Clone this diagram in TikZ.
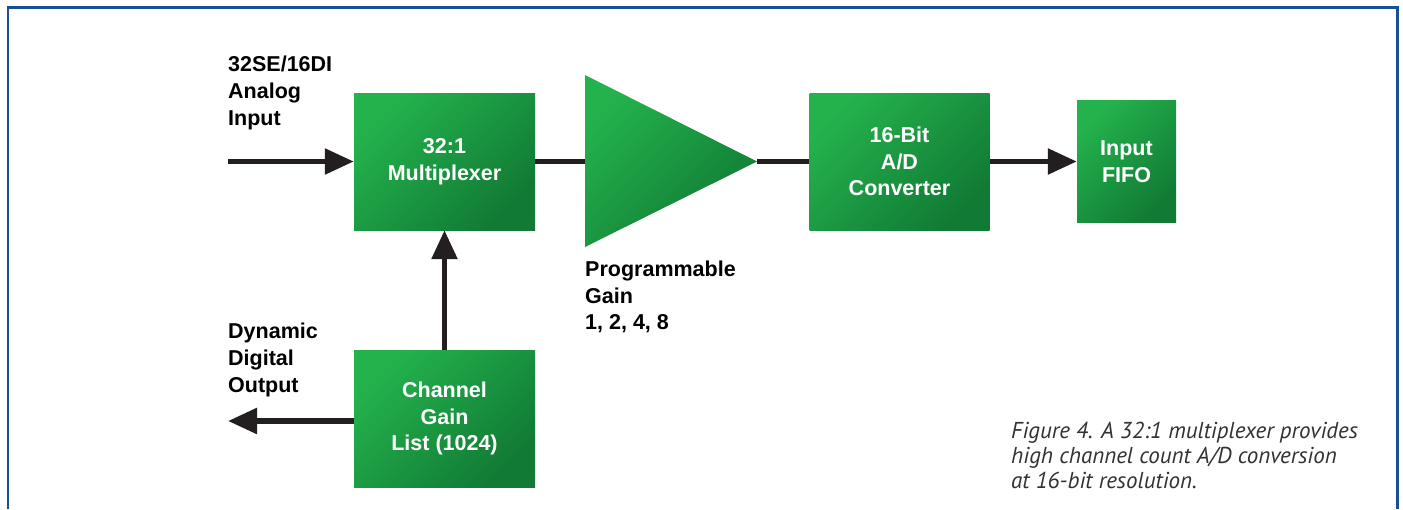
\documentclass[tikz,border=0pt]{standalone}
\usepackage{fontspec}
\setmainfont{Liberation Sans}
\newfontfamily\capfont{PT Sans}
\usetikzlibrary{arrows.meta}
\definecolor{gLight}{RGB}{36,178,77}
\definecolor{gDark}{RGB}{17,122,52}
\definecolor{frameblue}{RGB}{22,80,150}
\definecolor{wireblack}{RGB}{35,31,32}
\definecolor{capgrey}{RGB}{50,50,50}
\tikzset{
  gshade/.style={top color=gLight, bottom color=gDark, shading angle=45},
  gbox/.style={shade, gshade,
    inner sep=0pt, text=white, align=center,
    font=\fontsize{21.5}{26.5}\selectfont\bfseries},
  lbl/.style={inner sep=0pt, align=left, text=black,
    font=\fontsize{21.5}{26.8}\selectfont\bfseries},
  wire/.style={draw=wireblack, line width=5.5pt},
  arr/.style={wire, -{Triangle[length=29pt,width=25pt]}},
}
\begin{document}
\begin{tikzpicture}[x=1pt,y=-1pt]
\useasboundingbox (0,0) rectangle (1403,509);
\fill[white] (0,0) rectangle (1403,509);
% frame
\draw[frameblue, line width=2.2pt] (8,509) -- (8,7.5) -- (1397.5,7.5) -- (1397.5,509);
% boxes
\node[gbox, minimum width=181pt, minimum height=137pt] (mux) at (444.5,161.5) {32:1\\Multiplexer};
\node[gbox, minimum width=180pt, minimum height=137pt] (ad) at (899.5,161.5) {16-Bit\\A/D\\Converter};
\node[gbox, minimum width=99pt, minimum height=122pt] (fifo) at (1126.5,161.5) {Input\\FIFO};
\node[gbox, minimum width=181pt, minimum height=137pt] (cgl) at (444.5,418.5) {Channel\\Gain\\List (1024)};
% amplifier
\coordinate (ampin) at (585,161.5);
\coordinate (ampout) at (757,161.5);
\coordinate (inStart) at (228,161.5);
\coordinate (outEnd) at (228,421);
\draw[wire] (mux.east) -- (ampin);
\draw[wire] (ampout) -- (ad.west);
\shade[gshade] (585,75) -- (ampout) -- (585,247) -- cycle;
% arrows
\draw[arr] (inStart) -- (mux.west);
\draw[arr] (ad.east) -- (fifo.west);
\draw[arr] (cgl.north) -- (mux.south);
\draw[arr] ([yshift=-2.5pt]cgl.west) -- (outEnd);
% labels
\node[lbl, anchor=west] (inlbl) at (228,93) {32SE/16DI\\Analog\\Input};
\node[lbl, anchor=west] (pglbl) at (585,297) {Programmable\\Gain\\1, 2, 4, 8};
\node[lbl, anchor=west] (outlbl) at (228,360) {Dynamic\\Digital\\Output};
\node[inner sep=0pt, anchor=north west, align=left, text=capgrey,
  font=\capfont\itshape\fontsize{23}{25}\selectfont] (cap) at (1011,422)
  {Figure 4. A 32:1 multiplexer provides\\high channel count A/D conversion\\at 16-bit resolution.};
\end{tikzpicture}
\end{document}
